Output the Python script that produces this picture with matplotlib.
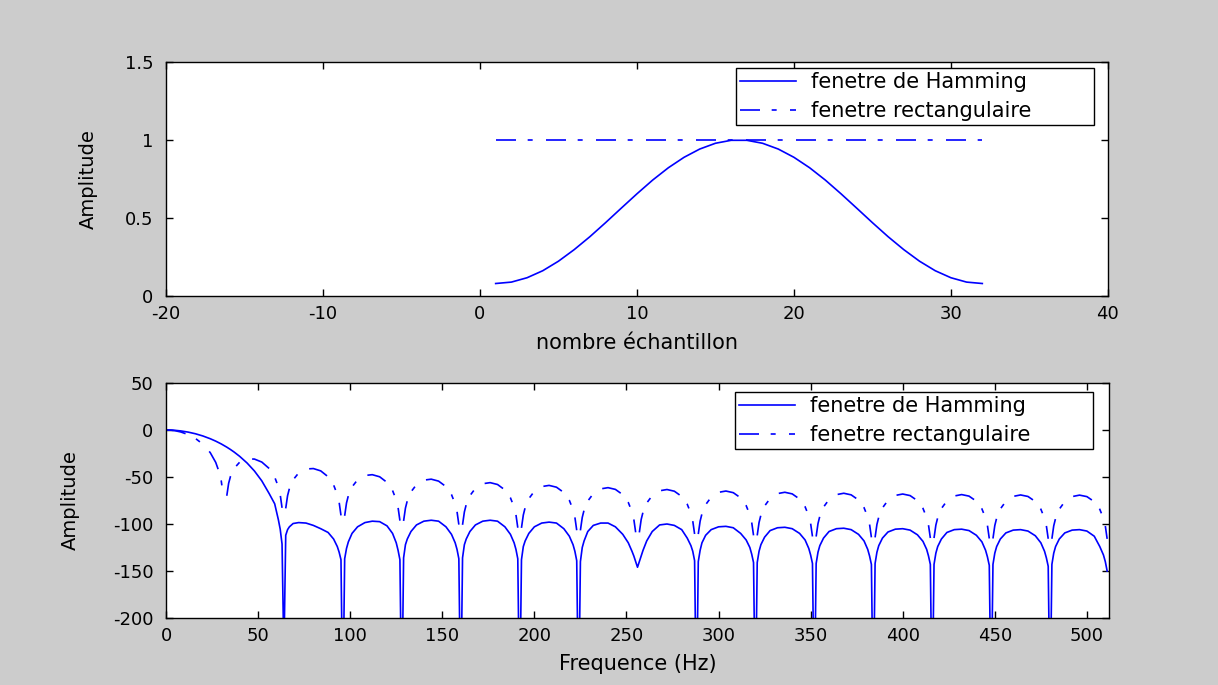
import numpy as np
import matplotlib
matplotlib.use("Agg")
import matplotlib.pyplot as plt

# ---- data ----
# top panel: 32-point windows
n_samples = [1, 2, 3, 4, 5, 6, 7, 8, 9, 10, 11, 12, 13, 14, 15, 16,
             17, 18, 19, 20, 21, 22, 23, 24, 25, 26, 27, 28, 29, 30, 31, 32]
hamming_win = [0.080, 0.089, 0.117, 0.162, 0.223, 0.297, 0.380, 0.470,
               0.563, 0.655, 0.743, 0.822, 0.889, 0.942, 0.979, 0.998,
               0.998, 0.979, 0.942, 0.889, 0.822, 0.743, 0.655, 0.563,
               0.470, 0.380, 0.297, 0.223, 0.162, 0.117, 0.089, 0.080]
rect_win = [1, 1, 1, 1, 1, 1, 1, 1, 1, 1, 1, 1, 1, 1, 1, 1,
            1, 1, 1, 1, 1, 1, 1, 1, 1, 1, 1, 1, 1, 1, 1, 1]

# bottom panel: spectra (Hz / amplitude), one row per 32 Hz lobe
freq = [
    0, 1, 2, 3, 5, 8, 12, 16, 20, 24, 27, 29, 30, 31,
    32, 33, 34, 35, 37, 40, 44, 48, 52, 56, 59, 61, 62, 63,
    64, 65, 66, 67, 69, 72, 76, 80, 84, 88, 91, 93, 94, 95,
    96, 97, 98, 99, 101, 104, 108, 112, 116, 120, 123, 125, 126, 127,
    128, 129, 130, 131, 133, 136, 140, 144, 148, 152, 155, 157, 158, 159,
    160, 161, 162, 163, 165, 168, 172, 176, 180, 184, 187, 189, 190, 191,
    192, 193, 194, 195, 197, 200, 204, 208, 212, 216, 219, 221, 222, 223,
    224, 225, 226, 227, 229, 232, 236, 240, 244, 248, 251, 253, 254, 255,
    256, 257, 258, 259, 261, 264, 268, 272, 276, 280, 283, 285, 286, 287,
    288, 289, 290, 291, 293, 296, 300, 304, 308, 312, 315, 317, 318, 319,
    320, 321, 322, 323, 325, 328, 332, 336, 340, 344, 347, 349, 350, 351,
    352, 353, 354, 355, 357, 360, 364, 368, 372, 376, 379, 381, 382, 383,
    384, 385, 386, 387, 389, 392, 396, 400, 404, 408, 411, 413, 414, 415,
    416, 417, 418, 419, 421, 424, 428, 432, 436, 440, 443, 445, 446, 447,
    448, 449, 450, 451, 453, 456, 460, 464, 468, 472, 475, 477, 478, 479,
    480, 481, 482, 483, 485, 488, 492, 496, 500, 504, 507, 509, 510, 511,
]
hamming_db = [
    0, -0.02, -0.06, -0.14, -0.39, -0.99, -2.25, -4.03, -6.36, -9.28, -11.87, -13.82, -14.85, -15.94,
    -17.07, -18.25, -19.48, -20.77, -23.5, -28.05, -35.1, -43.6, -54.1, -67.6, -78.5, -95.4, -105.5, -121.3,
    -240, -112, -106, -103, -99.5, -98.5, -99, -101.5, -105, -109, -116, -124, -130, -138,
    -300, -137, -126, -119, -110, -103, -98.5, -97, -97.5, -102, -110, -120, -128, -138,
    -300, -136, -122, -116, -108, -101, -97, -96, -97, -103, -111, -120, -127, -137,
    -300, -136, -122, -116, -108, -101, -97, -96, -97, -103, -111, -120, -127, -137,
    -300, -138, -124, -118, -110, -103, -99, -98, -99, -105, -113, -122, -129, -139,
    -300, -140, -125, -118, -108, -101.5, -99, -99, -103, -111, -120, -129, -134, -140,
    -146, -140, -134, -128, -118, -108, -101, -100, -101.5, -106, -115, -123, -129, -139,
    -300, -140, -128, -120, -112, -106, -103, -102.5, -104, -110, -117, -125, -132, -141,
    -300, -141, -129, -122, -114, -107, -104, -103.5, -105, -110, -117, -126, -133, -142,
    -300, -142, -130, -123, -115, -108, -105, -104.5, -106, -111, -118, -127, -134, -143,
    -300, -142, -130, -123, -115, -108.5, -105.5, -105, -106.5, -111.5, -118.5, -127, -134, -143,
    -300, -143, -131, -124, -116, -109, -106, -105.5, -107, -112, -119, -128, -135, -144,
    -300, -143, -131, -124, -116, -109.5, -106.5, -106, -107.5, -112.5, -120, -129, -136, -145,
    -300, -143, -131, -124, -116, -109.5, -106.5, -106, -107.5, -113, -124, -133, -140, -150,
]
nan = float("nan")   # -Inf at the exact zeros: MATLAB leaves a gap
rect_db = [
    0, -0.03, -0.13, -0.29, -0.81, -2.10, -4.86, -9.02, -15.07, -24.06, -34.51, -45.63, -54.27, -68.68,
    nan, -69.98, -56.76, -49.39, -40.80, -34.24, -30.78, -30.93, -34.10, -40.92, -50.06, -60.42, -68.69, -82.82,
    nan, -83.40, -69.87, -62.19, -53.04, -45.76, -41.50, -41.02, -43.49, -49.73, -58.51, -68.65, -76.83, -90.86,
    nan, -91.27, -77.64, -69.88, -60.55, -53.00, -48.39, -47.55, -49.77, -55.76, -64.35, -74.37, -82.47, -96.44,
    nan, -96.74, -83.07, -75.26, -65.83, -58.14, -53.34, -52.32, -54.39, -60.23, -68.70, -78.64, -86.71, -100.65,
    nan, -100.88, -87.18, -79.34, -69.85, -62.07, -57.15, -56.01, -57.98, -63.72, -72.12, -82.01, -90.06, -103.96,
    nan, -104.15, -90.42, -82.56, -73.03, -65.19, -60.18, -58.95, -60.85, -66.51, -74.86, -84.72, -92.74, -106.63,
    nan, -106.78, -93.04, -85.16, -75.61, -67.71, -62.64, -61.35, -63.19, -68.80, -77.10, -86.93, -94.94, -108.82,
    nan, -108.94, -95.19, -87.30, -77.71, -69.78, -64.67, -63.32, -65.11, -70.68, -78.94, -88.75, -96.75, -110.62,
    nan, -110.72, -96.96, -89.05, -79.45, -71.48, -66.32, -64.93, -66.68, -72.20, -80.44, -90.23, -98.22, -112.08,
    nan, -112.16, -98.39, -90.48, -80.86, -72.87, -67.67, -66.25, -67.97, -73.46, -81.67, -91.44, -99.42, -113.27,
    nan, -113.33, -99.55, -91.63, -82.00, -73.98, -68.76, -67.30, -68.99, -74.45, -82.64, -92.39, -100.37, -114.20,
    nan, -114.25, -100.47, -92.54, -82.89, -74.85, -69.60, -68.11, -69.77, -75.20, -83.37, -93.11, -101.08, -114.91,
    nan, -114.95, -101.16, -93.22, -83.56, -75.50, -70.22, -68.71, -70.34, -75.75, -83.90, -93.63, -101.59, -115.42,
    nan, -115.44, -101.64, -93.70, -84.02, -75.94, -70.63, -69.10, -70.71, -76.09, -84.22, -93.94, -101.90, -115.71,
    nan, -115.72, -101.92, -93.97, -84.28, -76.19, -70.85, -69.29, -70.87, -76.23, -84.34, -94.05, -102.00, -115.81,
]

labels = ["fenetre de Hamming", "fenetre rectangulaire"]

# ---- style ----
plt.rcParams["font.family"] = ["DejaVu Sans"]
plt.rcParams["axes.unicode_minus"] = False
plt.rcParams["axes.linewidth"] = 1.0
tick_fs = 13
label_fs = 15
legend_fs = 15

blue = "#0000ff"
lw = 1.2
dashdot = (0, (12, 7, 3, 8))

fig = plt.figure(figsize=(12.18, 6.85), dpi=100, facecolor="#cccccc")
ax1 = fig.add_axes([0.1363, 0.5679, 0.7733, 0.3416])
ax2 = fig.add_axes([0.1363, 0.0978, 0.7742, 0.3431])

legend_kw = dict(loc="upper left", mode="expand", borderaxespad=0,
                 fontsize=legend_fs, frameon=True, fancybox=False,
                 edgecolor="black", framealpha=1, borderpad=0.2,
                 handlelength=2.7, handletextpad=0.7, labelspacing=0.42)

# top: windows in time
ax1.plot(n_samples, hamming_win, color=blue, lw=lw, label=labels[0])
ax1.plot(n_samples, rect_win, color=blue, lw=lw, linestyle=dashdot, label=labels[1])
ax1.set_xlim(-20, 40)
ax1.set_ylim(0, 1.5)
ax1.set_xticks([-20, -10, 0, 10, 20, 30, 40])
ax1.set_yticks([0, 0.5, 1, 1.5])
ax1.set_yticklabels(["0", "0.5", "1", "1.5"])
ax1.set_xlabel("nombre échantillon", fontsize=label_fs)
ax1.set_ylabel("Amplitude", fontsize=14)
ax1.xaxis.set_label_coords(0.5, -0.16)
ax1.yaxis.set_label_coords(-0.072, 0.5)
ax1.legend(bbox_to_anchor=(0.6047, 0.5, 0.3804, 0.4744), **legend_kw)

# bottom: spectra
ax2.plot(freq, hamming_db, color=blue, lw=lw, label=labels[0])
ax2.plot(freq, rect_db, color=blue, lw=lw, linestyle=dashdot, label=labels[1])
ax2.set_xlim(0, 512)
ax2.set_ylim(-200, 50)
ax2.set_xticks(range(0, 501, 50))
ax2.set_yticks(range(-200, 51, 50))
ax2.set_xlabel("Frequence (Hz)", fontsize=label_fs)
ax2.set_ylabel("Amplitude", fontsize=14)
ax2.xaxis.set_label_coords(0.5, -0.155)
ax2.yaxis.set_label_coords(-0.091, 0.5)
ax2.legend(bbox_to_anchor=(0.6034, 0.5, 0.3796, 0.4617), **legend_kw)

for ax in (ax1, ax2):
    ax.set_facecolor("white")
    ax.tick_params(direction="in", length=5, width=1.0, top=True, right=True,
                   labelsize=tick_fs)
    ax.tick_params(axis="x", pad=6.5)
    ax.tick_params(axis="y", pad=9)
    for s in ax.spines.values():
        s.set_color("black")

fig.savefig("out.png", dpi=100, facecolor=fig.get_facecolor())
